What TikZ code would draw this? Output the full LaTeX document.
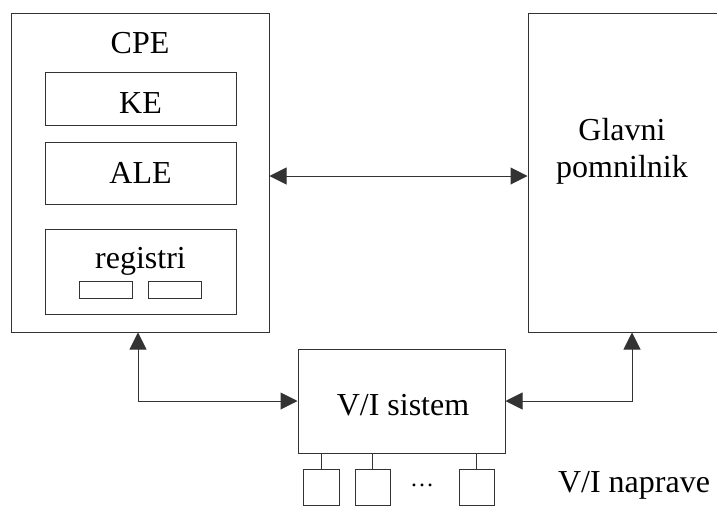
\documentclass[tikz,border=0pt]{standalone}
\usepackage{fontspec}
\setmainfont{Liberation Serif}
\usetikzlibrary{arrows.meta}
\begin{document}
\begin{tikzpicture}[x=1pt,y=1pt,
  ln/.style={draw=black!80,line width=1pt},
  box/.style={ln,rectangle,inner sep=0pt,fill=none},
  lbl/.style={inner sep=0pt,anchor=base,font=\fontsize{32}{37}\selectfont},
  conn/.style={ln,{Triangle[length=17pt,width=17pt]}-{Triangle[length=17pt,width=17pt]}}]
\useasboundingbox (0,0) rectangle (717,-506);
% CPE
\node[box,minimum width=258pt,minimum height=319pt] (cpe) at (140,-172.5) {};
\node[lbl] (cpet) at (140,-53) {CPE};
\node[box,minimum width=191pt,minimum height=53pt] (ke) at (140.5,-98.5) {};
\node[lbl] (ket) at (140.5,-113) {KE};
\node[box,minimum width=191pt,minimum height=62pt] (ale) at (140.5,-173) {};
\node[lbl] (alet) at (140.5,-183) {ALE};
\node[box,minimum width=191pt,minimum height=85pt] (reg) at (140.5,-271.5) {};
\node[lbl] (regt) at (140.5,-268) {registri};
\node[box,minimum width=53pt,minimum height=17pt] (r1) at (105.5,-289.5) {};
\node[box,minimum width=53pt,minimum height=17pt] (r2) at (174.5,-289.5) {};
% Glavni pomnilnik
\node[box,minimum width=196pt,minimum height=319pt] (gp) at (626,-172.5) {};
\node[lbl] (gpt1) at (622,-140) {Glavni};
\node[lbl] (gpt2) at (622,-177) {pomnilnik};
% V/I sistem
\node[box,minimum width=207pt,minimum height=104pt] (vi) at (401.5,-401) {};
\node[lbl] (vit) at (403,-415) {V/I sistem};
% devices
\node[box,minimum width=36pt,minimum height=36pt] (d1) at (321,-487) {};
\node[box,minimum width=35pt,minimum height=36pt] (d2) at (372.5,-487) {};
\node[box,minimum width=35pt,minimum height=36pt] (d3) at (476.5,-487) {};
\node[inner sep=0pt,font=\fontsize{24}{28}\selectfont] (dots) at (422,-485) {…};
\node[lbl] (vin) at (634,-492) {V/I naprave};
\draw[ln] (d1.north) -- (d1.north |- vi.south);
\draw[ln] (d2.north) -- (d2.north |- vi.south);
\draw[ln] (d3.north) -- (d3.north |- vi.south);
% connectors
\coordinate (bus) at (0,-176);
\coordinate (ca) at (138,0);
\coordinate (cb) at (632,0);
\draw[conn] (cpe.east |- bus) -- (gp.west |- bus);
\draw[conn] (cpe.south -| ca) |- (vi.west);
\draw[conn] (gp.south -| cb) |- (vi.east);
\end{tikzpicture}
\end{document}
